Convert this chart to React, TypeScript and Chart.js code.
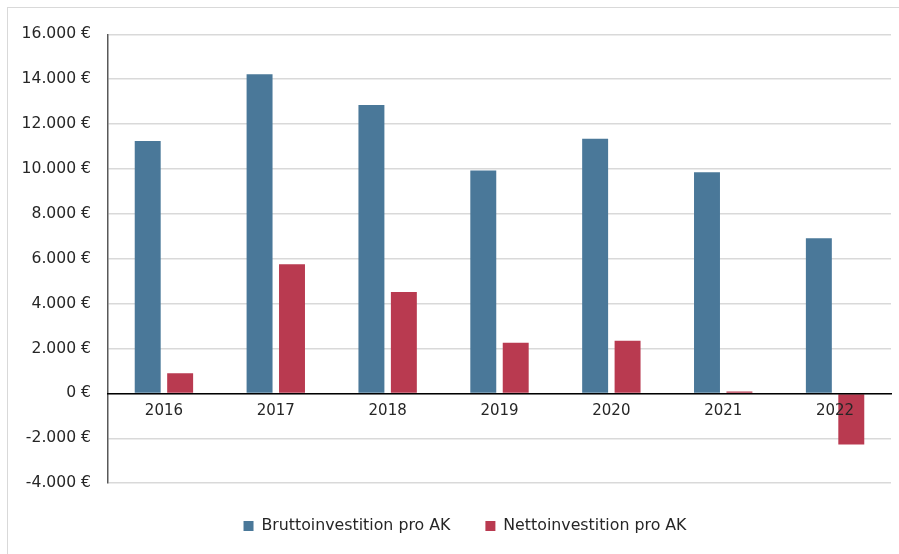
import React, { useEffect, useRef } from "react";
import { Chart, registerables } from "chart.js";

Chart.register(...registerables);

const years = ["2016", "2017", "2018", "2019", "2020", "2021", "2022"];
const brutto = [11250, 14220, 12850, 9930, 11350, 9860, 6920];
const netto = [900, 5760, 4520, 2260, 2350, 90, -2280];
const yTicksMin = -4000;
const yTicksMax = 16000;
const yTickStep = 2000;

const seriesNames = ["Bruttoinvestition pro AK", "Nettoinvestition pro AK"];

function formatEuro(v: number): string {
  const sign = v < 0 ? "-" : "";
  const s = Math.abs(Math.round(v)).toString().replace(/\B(?=(\d{3})+(?!\d))/g, ".");
  return sign + s + " €";
}

const FONT = "'DejaVu Sans', sans-serif";

export default function App() {
  const ref = useRef<HTMLCanvasElement | null>(null);
  useEffect(() => {
    if (!ref.current) return;
    const chart = new Chart(ref.current, {
      type: "bar",
      data: {
        labels: years,
        datasets: [
          {
            label: seriesNames[0],
            data: brutto,
            backgroundColor: "#4A7899",
            barPercentage: 0.8,
            categoryPercentage: 0.58,
          },
          {
            label: seriesNames[1],
            data: netto,
            backgroundColor: "#B93A50",
            barPercentage: 0.8,
            categoryPercentage: 0.58,
          },
        ],
      },
      options: {
        responsive: false,
        animation: false,
        layout: { padding: { left: 0, right: 8, top: 24, bottom: 10 } },
        plugins: {
          tooltip: { enabled: false },
          legend: {
            position: "bottom",
            labels: {
              boxWidth: 10,
              boxHeight: 10,
              padding: 35,
              color: "#262626",
              font: { family: FONT, size: 15.8 },
            },
          },
        },
        scales: {
          x: {
            position: { y: 0 } as any,
            grid: { display: false, drawTicks: false },
            border: { display: true, color: "#000000", width: 1.5, z: 1 },
            ticks: { color: "#262626", padding: 9, z: 1, font: { family: FONT, size: 15 } },
            afterFit: (s: any) => {
              s.height = 0;
            },
          },
          y: {
            min: yTicksMin,
            max: yTicksMax,
            ticks: {
              stepSize: yTickStep,
              color: "#262626",
              padding: 17,
              font: { family: FONT, size: 15.6 },
              callback: (v: any) => formatEuro(Number(v)),
            },
            grid: { color: "#d9d9d9", lineWidth: 1.5, drawTicks: false },
            border: { display: true, color: "#595959", width: 1.5 },
            afterFit: (s: any) => {
              s.width = 100;
            },
          },
          spacer: {
            type: "linear",
            position: "right",
            display: true,
            grid: { display: false, drawTicks: false },
            border: { display: false },
            ticks: { display: false },
            afterFit: (s: any) => {
              s.width = 31;
            },
          },
        },
      },
    });
    return () => chart.destroy();
  }, []);
  return (
    <div
      style={{
        position: "fixed",
        left: 7,
        top: 7,
        width: 900,
        height: 560,
        border: "1px solid #d9d9d9",
        boxSizing: "border-box",
        background: "#fff",
        overflow: "hidden",
      }}
    >
      <canvas ref={ref} width={922} height={546} style={{ display: "block" }} />
    </div>
  );
}
